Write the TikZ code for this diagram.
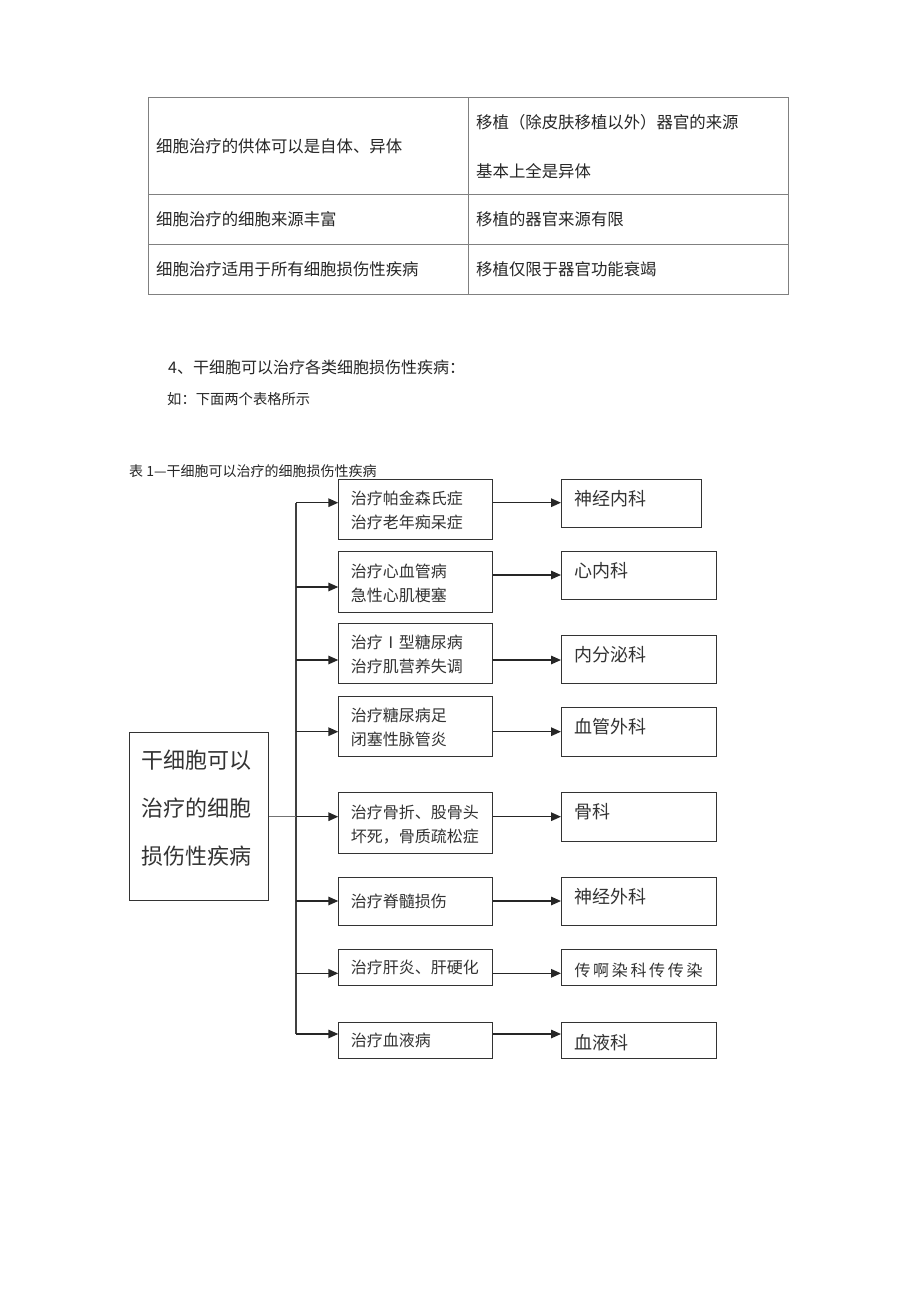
\documentclass[tikz,border=0pt]{standalone}
\usepackage{fontspec}
\setmainfont{Noto Sans CJK SC}
\usetikzlibrary{arrows.meta}

\tikzset{
  grid/.style={draw=black!50,line width=0.9pt},
  tabtext/.style={anchor=west,inner sep=0pt,text=black!85,font=\fontsize{16.4}{20}\selectfont},
  box/.style={draw=black!80,line width=1.1pt,anchor=north west,inner xsep=12pt,inner ysep=0pt,
    align=left,text=black!80,font=\fontsize{16}{24}\selectfont},
  mbox/.style={box,minimum width=154pt,text width=130pt},
  rbox/.style={box,inner xsep=13pt,minimum width=154.5pt,text width=128.5pt,
    font=\fontsize{18}{24}\selectfont,text height=14pt,text depth=10.3pt},
  rlow/.style={text height=18.7pt,text depth=0pt},
  arr/.style={line width=1.5pt,black!85,-{Triangle[length=10pt,width=8.5pt]}},
}

\begin{document}
\begin{tikzpicture}[x=1pt,y=-1pt]
  \useasboundingbox[fill=white] (0,0) rectangle (920,1302);

  % comparison table
  \draw[grid] (148,97) rectangle (788,294);
  \draw[grid] (468,97) -- (468,294);
  \draw[grid] (148,194) -- (788,194);
  \draw[grid] (148,244) -- (788,244);
  \node[tabtext] (c11) at (156,146.5) {细胞治疗的供体可以是自体、异体};
  \node[tabtext] (c12) at (476,122.5) {移植（除皮肤移植以外）器官的来源};
  \node[tabtext] (c12b) at (476,171.5) {基本上全是异体};
  \node[tabtext] (c21) at (156,219.5) {细胞治疗的细胞来源丰富};
  \node[tabtext] (c22) at (476,219.5) {移植的器官来源有限};
  \node[tabtext] (c31) at (156,269.5) {细胞治疗适用于所有细胞损伤性疾病};
  \node[tabtext] (c32) at (476,269.5) {移植仅限于器官功能衰竭};

  \node[tabtext,font=\fontsize{16}{20}\selectfont] (head) at (168,367.5) {4、干细胞可以治疗各类细胞损伤性疾病：};
  \node[tabtext,font=\fontsize{14.3}{18}\selectfont] (note) at (167,399) {如：下面两个表格所示};
  \node[tabtext,font=\fontsize{14}{18}\selectfont] (cap) at (129,471) {表 1—干细胞可以治疗的细胞损伤性疾病};

  % flow chart
  \node[box,minimum width=139pt,text width=115pt,text height=36.7pt,text depth=131.6pt,
    font=\fontsize{22}{48}\selectfont] (src) at (129.3,731.7) {干细胞可以\\治疗的细胞\\损伤性疾病};

  \node[mbox,minimum height=60pt,text height=16pt] (m1) at (338.3,479) {治疗帕金森氏症\\治疗老年痴呆症};
  \node[mbox,minimum height=61pt,text height=16pt] (m2) at (338.3,550.7) {治疗心血管病\\急性心肌梗塞};
  \node[mbox,minimum height=60.6pt,text height=16pt] (m3) at (338.3,622.7) {治疗Ⅰ型糖尿病\\治疗肌营养失调};
  \node[mbox,minimum height=59.7pt,text height=16pt] (m4) at (338.3,696) {治疗糖尿病足\\闭塞性脉管炎};
  \node[mbox,minimum height=60.4pt,text height=16pt] (m5) at (338.3,792.3) {治疗骨折、股骨头\\坏死，骨质疏松症};
  \node[mbox,minimum height=48.3pt] (m6) at (338.3,876.7) {治疗脊髓损伤};
  \node[mbox,minimum height=36pt] (m7) at (338.3,949) {治疗肝炎、肝硬化};
  \node[mbox,minimum height=36.6pt] (m8) at (338.3,1021.7) {治疗血液病};

  \node[rbox,minimum width=140pt,text width=114pt,minimum height=47.7pt] (r1) at (561,479) {神经内科};
  \node[rbox,minimum height=48.3pt] (r2) at (561,550.7) {心内科};
  \node[rbox,minimum height=48.3pt] (r3) at (561,635) {内分泌科};
  \node[rbox,minimum height=48.4pt] (r4) at (561,707.3) {血管外科};
  \node[rbox,minimum height=48.4pt] (r5) at (561,792.3) {骨科};
  \node[rbox,minimum height=48.3pt] (r6) at (561,876.7) {神经外科};
  \node[rbox,rlow,minimum height=36pt,font=\fontsize{16}{24}\selectfont] (r7) at (561,949)
    {传\,啊\,染\,科\,传\,传\,染};
  \node[rbox,rlow,minimum height=36.6pt] (r8) at (561,1021.7) {血液科};

  \coordinate (t1) at (296,502.7);
  \coordinate (t2) at (296,587);
  \coordinate (u2) at (296,575);
  \coordinate (t3) at (296,660);
  \coordinate (t4) at (296,731.7);
  \coordinate (t5) at (296,816.7);
  \coordinate (t6) at (296,901);
  \coordinate (t7) at (296,973.3);
  \coordinate (t8) at (296,1034);

  \draw[black!75,line width=1.3pt] (t1) -- (t8);
  \draw[black!55,line width=0.9pt] (src.east |- t5) -- (t5);

  \draw[arr] (t1) -- (t1 -| m1.west);
  \draw[arr] (t2) -- (t2 -| m2.west);
  \draw[arr] (t3) -- (t3 -| m3.west);
  \draw[arr] (t4) -- (t4 -| m4.west);
  \draw[arr] (t5) -- (t5 -| m5.west);
  \draw[arr] (t6) -- (t6 -| m6.west);
  \draw[arr] (t7) -- (t7 -| m7.west);
  \draw[arr] (t8) -- (t8 -| m8.west);

  \draw[arr] (t1 -| m1.east) -- (t1 -| r1.west);
  \draw[arr] (u2 -| m2.east) -- (u2 -| r2.west);
  \draw[arr] (t3 -| m3.east) -- (t3 -| r3.west);
  \draw[arr] (t4 -| m4.east) -- (t4 -| r4.west);
  \draw[arr] (t5 -| m5.east) -- (t5 -| r5.west);
  \draw[arr] (t6 -| m6.east) -- (t6 -| r6.west);
  \draw[arr] (t7 -| m7.east) -- (t7 -| r7.west);
  \draw[arr] (t8 -| m8.east) -- (t8 -| r8.west);
\end{tikzpicture}
\end{document}
